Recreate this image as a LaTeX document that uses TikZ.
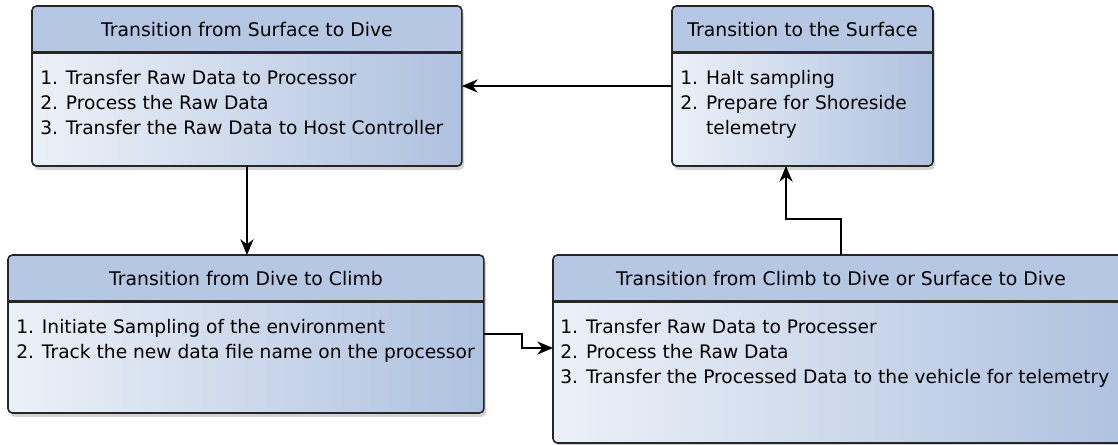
\documentclass[tikz,border=0pt]{standalone}
\usepackage{fontspec}
\setmainfont{DejaVu Sans}
\usetikzlibrary{arrows.meta,shadows}
\definecolor{headblue}{RGB}{181,199,227}
\definecolor{paleblue}{RGB}{236,241,248}
\definecolor{deepblue}{RGB}{174,193,223}
\tikzset{
  statebox/.style={draw=black!85,line width=0.9pt,rounded corners=2.5pt,anchor=north west,outer sep=0pt,
    left color=paleblue,right color=deepblue,
    drop shadow={shadow xshift=1.2pt,shadow yshift=-2.2pt,opacity=0.35},
    path picture={
      \fill[headblue,sharp corners] (path picture bounding box.north west) rectangle ([yshift=-0.93cm]path picture bounding box.north east);
      \draw[line width=1.3pt,sharp corners] ([yshift=-0.93cm]path picture bounding box.north west) -- ([yshift=-0.93cm]path picture bounding box.north east);}},
  statetitle/.style={font=\fontsize{10.7}{12}\selectfont},
  items/.style={anchor=north west,align=left,inner sep=0pt,font=\fontsize{10.6}{14.2}\selectfont},
  flow/.style={-{Stealth[length=9pt,width=7.5pt]},line width=0.8pt}
}
\begin{document}
\begin{tikzpicture}[x=0.02cm,y=-0.02cm]
\useasboundingbox (0,0) rectangle (1118,444);
% states
\node[statebox,minimum width=8.6cm,minimum height=3.2cm] (sfc) at (32,6) {};
\node[statebox,minimum width=5.22cm,minimum height=3.2cm] (surf) at (672,6) {};
\node[statebox,minimum width=9.52cm,minimum height=3.16cm] (d2c) at (8,255) {};
\node[statebox,minimum width=11.52cm,minimum height=3.76cm] (c2d) at (553,255) {};
% titles
\node[statetitle] (sfc-t) at ([yshift=-0.465cm]sfc.north) {Transition from Surface to Dive};
\node[statetitle] (surf-t) at ([yshift=-0.465cm]surf.north) {Transition to the Surface};
\node[statetitle] (d2c-t) at ([yshift=-0.465cm]d2c.north) {Transition from Dive to Climb};
\node[statetitle] (c2d-t) at ([yshift=-0.465cm]c2d.north) {Transition from Climb to Dive or Surface to Dive};
% activities
\node[items] (sfc-b) at ([xshift=0.16cm,yshift=-1.28cm]sfc.north west)
  {1. Transfer Raw Data to Processor\\2. Process the Raw Data\\3. Transfer the Raw Data to Host Controller};
\node[items] (surf-b) at ([xshift=0.16cm,yshift=-1.28cm]surf.north west)
  {1. Halt sampling\\2. Prepare for Shoreside\\\phantom{2. }telemetry};
\node[items] (d2c-b) at ([xshift=0.16cm,yshift=-1.28cm]d2c.north west)
  {1. Initiate Sampling of the environment\\2. Track the new data file name on the processor};
\node[items] (c2d-b) at ([xshift=0.14cm,yshift=-1.28cm]c2d.north west)
  {1. Transfer Raw Data to Processer\\2. Process the Raw Data\\3. Transfer the Processed Data to the vehicle for telemetry};
% transitions
\coordinate (bend) at (786,219);
\coordinate (j1) at (522,334);
\coordinate (j2) at (522,348);
\draw[flow] (surf.west) -- (sfc.east);
\draw[flow] (sfc.south) -- (sfc.south |- d2c.north);
\draw[flow] (c2d.north) -- (c2d.north |- bend) -- (bend) -- (bend |- surf.south);
\draw[flow] (j1 -| d2c.east) -- (j1) -- (j2) -- (j2 -| c2d.west);
\end{tikzpicture}
\end{document}
